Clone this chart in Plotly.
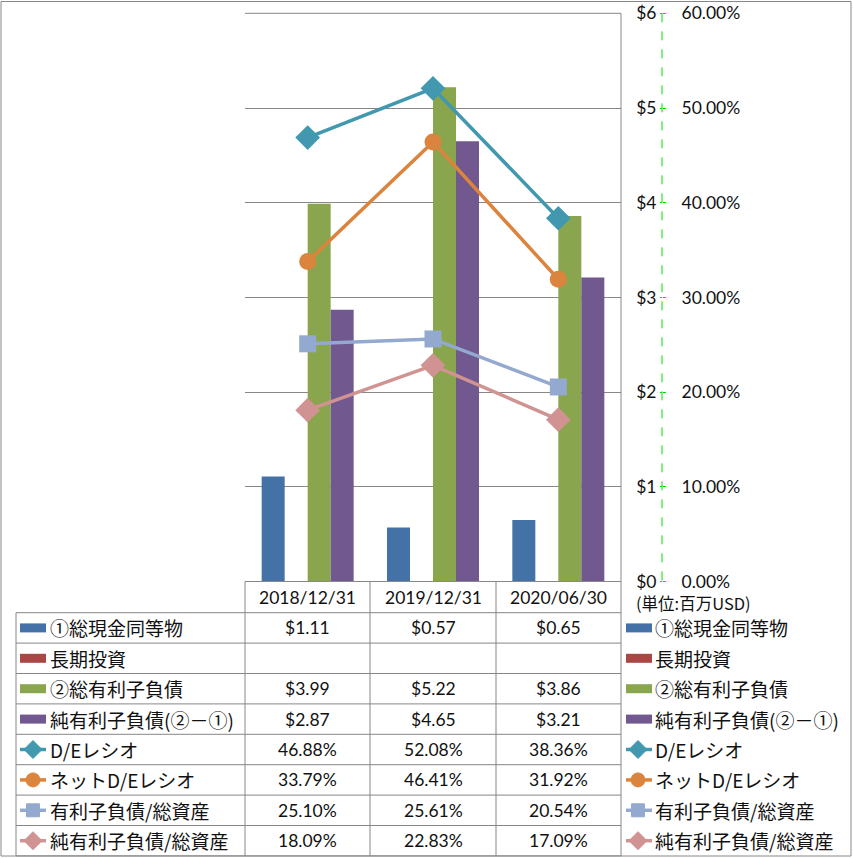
import plotly.graph_objects as go

W, H = 853, 858

# ---------------- data ----------------
categories = ["2018/12/31", "2019/12/31", "2020/06/30"]

bar_names = ["①総現金同等物", "長期投資", "②総有利子負債", "純有利子負債(②－①)"]
cash = [1.11, 0.57, 0.65]
long_term_invest = [None, None, None]
total_debt = [3.99, 5.22, 3.86]
net_debt = [2.87, 4.65, 3.21]

line_names = ["D/Eレシオ", "ネットD/Eレシオ", "有利子負債/総資産", "純有利子負債/総資産"]
de_ratio = [0.4688, 0.5208, 0.3836]
net_de_ratio = [0.3379, 0.4641, 0.3192]
debt_to_assets = [0.2510, 0.2561, 0.2054]
net_debt_to_assets = [0.1809, 0.2283, 0.1709]

usd_ticks = [0, 1, 2, 3, 4, 5, 6]
usd_tick_labels = ["$0", "$1", "$2", "$3", "$4", "$5", "$6"]
pct_ticks = [0, 0.1, 0.2, 0.3, 0.4, 0.5, 0.6]
unit_label = "(単位:百万USD)"

# ---------------- styles ----------------
bar_colors = ["#4471A6", "#AA4643", "#89A54E", "#71588F"]
line_colors = ["#4198AF", "#DB843D", "#93A9CF", "#D09392"]
line_symbols = ["diamond", "circle", "square", "diamond"]
marker_sizes = [19, 17, 17, 19]

LAT = "Lato, 'Noto Sans CJK JP', sans-serif"
JP = "'Noto Sans CJK JP', Lato, sans-serif"
TXT = "#111111"
GRID = "#878787"

def px(x):
    return x / W

def py(y):
    return 1 - y / H

PLOT_L, PLOT_R, PLOT_T, PLOT_B = 245, 621, 13.3, 581.5
AXIS_X = 662
TABLE_L = 16
ROW_TOP = 612.7
ROW_H = 30.4
COL_X = [245, 370, 496, 621]

fig = go.Figure()

bar_series = [cash, long_term_invest, total_debt, net_debt]
for name, vals, col in zip(bar_names, bar_series, bar_colors):
    fig.add_trace(go.Bar(x=categories, y=vals, name=name, marker_color=col,
                         marker_line_width=0, yaxis="y", showlegend=False))

line_series = [de_ratio, net_de_ratio, debt_to_assets, net_debt_to_assets]
for name, vals, col, sym, ms in zip(line_names, line_series, line_colors, line_symbols, marker_sizes):
    fig.add_trace(go.Scatter(x=categories, y=vals, name=name, mode="lines+markers",
                             line=dict(color=col, width=3.5),
                             marker=dict(symbol=sym, size=ms, color=col),
                             yaxis="y2", showlegend=False))

shapes = []
annotations = []

# outer frame
shapes.append(dict(type="rect", xref="paper", yref="paper", x0=px(1), x1=px(851), y0=py(856), y1=py(1.5),
                   line=dict(color=GRID, width=1)))
# plot right border / table right line
shapes.append(dict(type="line", xref="paper", yref="paper", x0=px(PLOT_R), x1=px(PLOT_R),
                   y0=py(PLOT_T), y1=py(856), line=dict(color=GRID, width=1)))
# top gridline
shapes.append(dict(type="line", xref="paper", yref="paper", x0=px(PLOT_L), x1=px(PLOT_R),
                   y0=py(PLOT_T), y1=py(PLOT_T), line=dict(color=GRID, width=1)))
# header top line (axis line)
shapes.append(dict(type="line", xref="paper", yref="paper", x0=px(PLOT_L), x1=px(PLOT_R),
                   y0=py(PLOT_B), y1=py(PLOT_B), line=dict(color=GRID, width=1)))
# green dashed axis line
shapes.append(dict(type="line", xref="paper", yref="paper", x0=px(AXIS_X), x1=px(AXIS_X),
                   y0=py(PLOT_T), y1=py(PLOT_B), line=dict(color="#00E000", width=1, dash="dash")))

n_rows = len(bar_names) + len(line_names)
row_bounds = [ROW_TOP + i * ROW_H for i in range(n_rows + 1)]
row_centers = [(row_bounds[i] + row_bounds[i + 1]) / 2 for i in range(n_rows)]
for yb in row_bounds:
    shapes.append(dict(type="line", xref="paper", yref="paper", x0=px(TABLE_L), x1=px(PLOT_R),
                       y0=py(yb), y1=py(yb), line=dict(color=GRID, width=1)))
shapes.append(dict(type="line", xref="paper", yref="paper", x0=px(TABLE_L), x1=px(TABLE_L),
                   y0=py(ROW_TOP), y1=py(row_bounds[-1]), line=dict(color=GRID, width=1)))
for cx in COL_X[:-1]:
    shapes.append(dict(type="line", xref="paper", yref="paper", x0=px(cx), x1=px(cx),
                       y0=py(PLOT_B), y1=py(row_bounds[-1]), line=dict(color=GRID, width=1)))

for c in categories:
    annotations.append(dict(x=c, xref="x", y=py((PLOT_B + ROW_TOP) / 2), yref="paper", text=c,
                            showarrow=False, xanchor="center", yanchor="middle",
                            font=dict(family=LAT, size=17.5, color=TXT)))

def legend_glyph(kind, color, symbol, xl, xr, xm, yc):
    if kind == "bar":
        shapes.append(dict(type="rect", xref="paper", yref="paper", x0=px(xl), x1=px(xr),
                           y0=py(yc + 4.5), y1=py(yc - 4.5), fillcolor=color, line=dict(width=0)))
    else:
        shapes.append(dict(type="line", xref="paper", yref="paper", x0=px(xl), x1=px(xr),
                           y0=py(yc), y1=py(yc), line=dict(color=color, width=3.5)))
        r = 7
        if symbol == "diamond":
            r = 9
            path = (f"M {px(xm - r)} {py(yc)} L {px(xm)} {py(yc - r)} L {px(xm + r)} {py(yc)} "
                    f"L {px(xm)} {py(yc + r)} Z")
            shapes.append(dict(type="path", xref="paper", yref="paper", path=path,
                               fillcolor=color, line=dict(color=color, width=1)))
        elif symbol == "circle":
            shapes.append(dict(type="circle", xref="paper", yref="paper", x0=px(xm - r), x1=px(xm + r),
                               y0=py(yc + r), y1=py(yc - r), fillcolor=color, line=dict(color=color, width=1)))
        else:
            r = 6.5
            shapes.append(dict(type="rect", xref="paper", yref="paper", x0=px(xm - r), x1=px(xm + r),
                               y0=py(yc + r), y1=py(yc - r), fillcolor=color, line=dict(color=color, width=1)))

rows = []
for name, vals, col in zip(bar_names, bar_series, bar_colors):
    rows.append(("bar", name, vals, col, None))
for name, vals, col, sym in zip(line_names, line_series, line_colors, line_symbols):
    rows.append(("line", name, vals, col, sym))

for i, (kind, name, vals, col, sym) in enumerate(rows):
    yc = row_centers[i]
    legend_glyph(kind, col, sym, 20, 46, 33, yc)
    annotations.append(dict(x=px(48), xref="paper", y=py(yc), yref="paper", text=name,
                            showarrow=False, xanchor="left", yanchor="middle",
                            font=dict(family=JP, size=19, color=TXT)))
    legend_glyph(kind, col, sym, 626, 652, 638, yc)
    annotations.append(dict(x=px(653), xref="paper", y=py(yc), yref="paper", text=name,
                            showarrow=False, xanchor="left", yanchor="middle",
                            font=dict(family=JP, size=19, color=TXT)))
    for c, v in zip(categories, vals):
        if v is None:
            continue
        t = f"${v:.2f}" if kind == "bar" else f"{v * 100:.2f}%"
        annotations.append(dict(x=c, xref="x", y=py(yc), yref="paper", text=t,
                                showarrow=False, xanchor="center", yanchor="middle",
                                font=dict(family=LAT, size=17.5, color=TXT)))

annotations.append(dict(x=px(634), xref="paper", y=py(603), yref="paper", text=unit_label,
                        showarrow=False, xanchor="left", yanchor="middle",
                        font=dict(family=JP, size=16.5, color=TXT)))

fig.update_layout(
    width=W, height=H, autosize=False,
    margin=dict(l=0, r=0, t=0, b=0, pad=0, autoexpand=False),
    paper_bgcolor="white", plot_bgcolor="white",
    barmode="group", bargap=0.266, bargroupgap=0,
    xaxis=dict(domain=[px(PLOT_L), px(PLOT_R)], range=[-0.5, 2.5], type="category",
               showticklabels=False, showgrid=False, showline=False, zeroline=False, ticks="",
               automargin=False),
    yaxis=dict(domain=[py(PLOT_B), py(PLOT_T)], range=[0, 6], anchor="free", position=px(AXIS_X),
               side="left", tickvals=usd_ticks, ticktext=usd_tick_labels, showgrid=True,
               gridcolor=GRID, gridwidth=1, zeroline=False, showline=False,
               ticks="outside", ticklen=2, tickcolor="#00E000", automargin=False,
               tickfont=dict(family=LAT, size=17.5, color=TXT)),
    yaxis2=dict(domain=[py(PLOT_B), py(PLOT_T)], range=[0, 0.6], overlaying="y", anchor="free",
                position=px(AXIS_X), side="right", tickvals=pct_ticks, tickformat=".2%",
                showgrid=False, zeroline=False, showline=False, ticks="outside", ticklen=3,
                tickcolor="#00E000", ticklabelstandoff=12, automargin=False,
                tickfont=dict(family=LAT, size=17.5, color=TXT)),
    shapes=shapes, annotations=annotations,
)

fig.write_html("out.html")
